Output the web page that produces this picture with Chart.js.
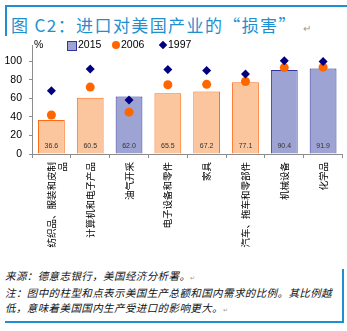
<!DOCTYPE html>
<html>
<head>
<meta charset="utf-8">
<script src="https://cdn.jsdelivr.net/npm/chart.js@4/dist/chart.umd.min.js"></script>
<style>
  html, body { margin: 0; padding: 0; background: #fff; }
  #page { position: relative; width: 347px; height: 331px; overflow: hidden; font-family: "Liberation Sans", Arial, sans-serif; }
  .rule { position: absolute; background: #1e8fd0; }
  #title { position: absolute; left: 11px; top: 12px; font: 17px "Noto Sans CJK SC", sans-serif; color: #1e90d0; letter-spacing: 1.4px; white-space: nowrap; }
  #title .mark { color: #999; font-size: 10px; letter-spacing: 0; margin-left: 6px; }
  #chartBox { position: absolute; left: 0; top: 32px; width: 347px; height: 222px; }
  #legend { position: absolute; top: 38px; left: 0; font-size: 10.5px; color: #000; }
  #legend span { position: absolute; white-space: nowrap; }
  .sw { position: absolute; }
  #note { position: absolute; left: 5px; top: 268px; font: italic 10.5px/15px "Noto Sans CJK SC", sans-serif; letter-spacing: 0.4px; color: #111; white-space: nowrap; }
  #note .mark { color: #999; font-size: 6px; font-style: normal; }
</style>
</head>
<body>
<div id="page">
  <div class="rule" style="left:5px; top:5px; width:342px; height:2px;"></div>
  <div class="rule" style="left:5px; top:5px; width:2px; height:31px;"></div>
  <div class="rule" style="left:5px; top:321px; width:339px; height:2px;"></div>
  <div class="rule" style="left:342px; top:269px; width:2px; height:54px;"></div>
  <div id="title">图 C2：进口对美国产业的“损害”<span class="mark">↵</span></div>

  <div id="chartBox"><canvas id="chart"></canvas></div>

  <div id="legend">
    <span style="left:34px; top:0;">%</span>
    <div class="sw" style="left:67px; top:3px; width:8px; height:8px; background:#9da3d3; border:1px solid #333399;"></div>
    <span style="left:78px; top:0;">2015</span>
    <div class="sw" style="left:112px; top:3px; width:8px; height:8px; border-radius:50%; background:#ff6600;"></div>
    <span style="left:121px; top:0;">2006</span>
    <div class="sw" style="left:160px; top:4px; width:6px; height:6px; background:#000080; transform:rotate(45deg);"></div>
    <span style="left:168px; top:0;">1997</span>
  </div>

  <div id="note">来源：德意志银行，美国经济分析署。<span class="mark">↵</span><br>注：图中的柱型和点表示美国生产总额和国内需求的比例。其比例越<br>低，意味着美国国内生产受进口的影响更大。<span class="mark">↵</span></div>
</div>

<script>
// 美国生产总额 / 国内需求（%）
const categories = [
  ['纺织品、服装和皮制', '品'],
  '计算机和电子产品',
  '油气开采',
  '电子设备和零件',
  '家具',
  '汽车、拖车和零部件',
  '机械设备',
  '化学品',
];
const share2015 = [36.6, 60.5, 62.0, 65.5, 67.2, 77.1, 90.4, 91.9];
const share2006 = [42, 72, 45, 74.5, 75, 78, 93, 93.5];
const share1997 = [68, 91.5, 58, 91, 90, 86, 100.5, 99.5];
const yTicks = [0, 20, 40, 60, 80, 100];

// bars drawn in blue instead of peach
const blueIdx = [2, 6, 7];
const PEACH = '#fbc59d', PEACH_EDGE = '#ff6a13';
const BLUE = '#9da3d3', BLUE_EDGE = '#333399';

const barLabels = {
  id: 'barLabels',
  afterDatasetsDraw(chart) {
    const { ctx, scales } = chart;
    const meta = chart.getDatasetMeta(0);
    ctx.save();
    ctx.font = '7px "Liberation Sans", Arial, sans-serif';
    ctx.fillStyle = '#333';
    ctx.textAlign = 'center';
    ctx.textBaseline = 'middle';
    meta.data.forEach((bar, i) => {
      ctx.fillText(share2015[i].toFixed(1), bar.x, scales.y.getPixelForValue(0) - 8);
    });
    ctx.restore();
  },
};

new Chart(document.getElementById('chart'), {
  data: {
    labels: categories,
    datasets: [
      {
        type: 'bar',
        label: '2015',
        data: share2015,
        order: 3,
        backgroundColor: share2015.map((_, i) => blueIdx.includes(i) ? BLUE : PEACH),
        borderColor: share2015.map((_, i) => blueIdx.includes(i) ? BLUE_EDGE : PEACH_EDGE),
        borderWidth: 1,
        categoryPercentage: 1,
        barPercentage: 0.69,
      },
      {
        type: 'line',
        label: '2006',
        data: share2006,
        order: 2,
        showLine: false,
        pointStyle: 'circle',
        pointRadius: 4.5,
        pointBackgroundColor: '#ff6600',
        pointBorderWidth: 0,
      },
      {
        type: 'line',
        label: '1997',
        data: share1997,
        order: 1,
        showLine: false,
        pointStyle: 'rectRot',
        pointRadius: 4.5,
        pointBackgroundColor: '#000080',
        pointBorderWidth: 0,
      },
    ],
  },
  options: {
    responsive: true,
    maintainAspectRatio: false,
    animation: false,
    layout: { padding: { top: 0, left: 0, right: 1, bottom: 0 } },
    plugins: { legend: { display: false }, tooltip: { enabled: false } },
    scales: {
      x: {
        offset: true,
        afterFit: (s) => { s.height = 100; },
        ticks: {
          autoSkip: false,
          maxRotation: 90,
          minRotation: 90,
          padding: 4,
          color: '#000',
          font: { family: '"Noto Sans CJK SC", sans-serif', size: 9.5 },
        },
        grid: { offset: true, drawOnChartArea: false, tickLength: 4, color: '#8c8c8c' },
        border: { color: '#8c8c8c' },
      },
      y: {
        min: 0,
        max: 117,
        afterFit: (s) => { s.width = 32; },
        afterBuildTicks: (s) => { s.ticks = yTicks.map(v => ({ value: v })); },
        ticks: {
          padding: 7,
          color: '#000',
          font: { family: '"Liberation Sans", Arial, sans-serif', size: 10.5 },
        },
        grid: { drawOnChartArea: false, tickLength: 3, color: '#8c8c8c' },
        border: { color: '#8c8c8c' },
      },
    },
  },
  plugins: [barLabels],
});
</script>
</body>
</html>
